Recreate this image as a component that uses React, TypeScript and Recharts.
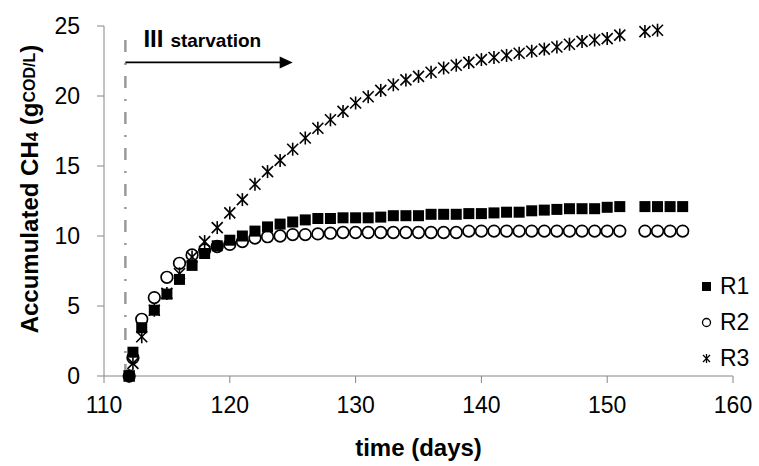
import React from "react";
import { ScatterChart, Scatter, XAxis, YAxis, ReferenceLine } from "recharts";

// sampling days (day 112 was sampled twice)
const days = [
  112, 112.3, 113, 114, 115, 116, 117, 118, 119, 120, 121, 122, 123, 124, 125,
  126, 127, 128, 129, 130, 131, 132, 133, 134, 135, 136, 137, 138, 139, 140,
  141, 142, 143, 144, 145, 146, 147, 148, 149, 150, 151, 153, 154, 155, 156,
];

const r1 = [
  0, 1.7, 3.45, 4.7, 5.85, 6.9, 7.9, 8.75, 9.3, 9.7, 10.0, 10.35, 10.65, 10.85, 11.0,
  11.15, 11.25, 11.25, 11.3, 11.3, 11.3, 11.35, 11.45, 11.45, 11.45, 11.55, 11.55, 11.55, 11.6, 11.6,
  11.65, 11.7, 11.7, 11.8, 11.85, 11.9, 11.95, 11.95, 11.95, 12.05, 12.1, 12.1, 12.1, 12.1, 12.1,
];

const r2 = [
  0, 1.3, 4.05, 5.6, 7.05, 8.05, 8.65, 9.0, 9.25, 9.4, 9.6, 9.85, 9.95, 10.0, 10.1,
  10.1, 10.15, 10.2, 10.25, 10.25, 10.25, 10.25, 10.25, 10.25, 10.25, 10.25, 10.25, 10.25, 10.35, 10.35,
  10.35, 10.35, 10.35, 10.35, 10.35, 10.35, 10.35, 10.35, 10.35, 10.35, 10.35, 10.35, 10.35, 10.35, 10.35,
];

const r3 = [
  0, 0.9, 2.8, 4.7, 5.9, 7.3, 8.5, 9.6, 10.6, 11.65, 12.6, 13.7, 14.6, 15.4, 16.2,
  17.0, 17.7, 18.3, 18.9, 19.5, 19.95, 20.4, 20.8, 21.15, 21.4, 21.7, 22.0, 22.2, 22.4, 22.6,
  22.75, 22.9, 23.05, 23.2, 23.35, 23.5, 23.7, 23.9, 24.0, 24.1, 24.35, 24.6, 24.7, null, null,
];

const xTicks = [110, 120, 130, 140, 150, 160];
const yTicks = [0, 5, 10, 15, 20, 25];

// start of phase III (starvation)
const phaseStart = 111.7;
const arrowEnd = 125;
const arrowLevel = 22.4;

const FONT = "'Liberation Sans', Arial, sans-serif";
const AXIS = "#868686";

const toPoints = (vals: (number | null)[]) =>
  days
    .map((d, i) => ({ day: d, value: vals[i] }))
    .filter((p) => p.value !== null);

const SquareMark = (p: any) => (
  <rect x={p.cx - 5.5} y={p.cy - 5.5} width={11} height={11} fill="#000" />
);

const CircleMark = (p: any) => (
  <circle cx={p.cx} cy={p.cy} r={5.8} fill="none" stroke="#000" strokeWidth={1.7} />
);

const StarMark = (p: any) => {
  const s = 5.5;
  return (
    <g stroke="#000" strokeWidth={1.6}>
      <line x1={p.cx - s} y1={p.cy - s} x2={p.cx + s} y2={p.cy + s} />
      <line x1={p.cx - s} y1={p.cy + s} x2={p.cx + s} y2={p.cy - s} />
      <line x1={p.cx} y1={p.cy - s - 1} x2={p.cx} y2={p.cy + s + 1} />
    </g>
  );
};

// arrow + "III starvation" annotation
const ArrowShape = (p: any) => {
  const { x1, y1, x2 } = p;
  return (
    <g>
      <line x1={x1} y1={y1} x2={x2 - 12} y2={y1} stroke="#000" strokeWidth={1.8} />
      <polygon points={`${x2},${y1} ${x2 - 13},${y1 - 6} ${x2 - 13},${y1 + 6}`} fill="#000" />
      <text x={x1 + 18} y={y1 - 15} fontFamily={FONT} fontWeight="bold" fill="#000">
        <tspan fontSize={24}>III</tspan>
        <tspan fontSize={19} dx={7}>starvation</tspan>
      </text>
    </g>
  );
};

const YTitle = (p: any) => {
  const vb = p.viewBox;
  const cx = vb.x + 29;
  const cy = vb.y + vb.height / 2 - 12;
  return (
    <text
      x={cx}
      y={cy}
      transform={`rotate(-90, ${cx}, ${cy})`}
      textAnchor="middle"
      dominantBaseline="central"
      fontFamily={FONT}
      fontWeight="bold"
      fontSize={24}
      fill="#000"
    >
      Accumulated CH<tspan fontSize={17} dy={3}>4</tspan>
      <tspan dy={-3}> (g</tspan>
      <tspan fontSize={16}>COD/L</tspan>
      <tspan>)</tspan>
    </text>
  );
};

const legendItems = [
  { name: "R1", Mark: () => <rect x={2} y={2} width={9} height={9} fill="#000" /> },
  { name: "R2", Mark: () => <circle cx={6.5} cy={6.5} r={4} fill="none" stroke="#000" strokeWidth={1.3} /> },
  {
    name: "R3",
    Mark: () => (
      <g stroke="#000" strokeWidth={1.3}>
        <line x1={3} y1={3} x2={10} y2={10} />
        <line x1={3} y1={10} x2={10} y2={3} />
        <line x1={6.5} y1={2} x2={6.5} y2={11} />
      </g>
    ),
  },
];

const LegendBox = () => (
  <div
    style={{
      position: "absolute",
      left: 700,
      top: 268,
      fontFamily: FONT,
      fontSize: 23,
      color: "#000",
    }}
  >
    {legendItems.map(({ name, Mark }) => (
      <div key={name} style={{ display: "flex", alignItems: "center", height: 36 }}>
        <svg width={13} height={13} style={{ marginRight: 7 }}>
          <Mark />
        </svg>
        {name}
      </div>
    ))}
  </div>
);

export default function App() {
  return (
    <div style={{ position: "absolute", left: 0, top: 0, width: 759, height: 466, background: "#fff" }}>
      <ScatterChart width={759} height={466} margin={{ top: 26, right: 26, left: 0, bottom: 0 }}>
        <XAxis
          type="number"
          dataKey="day"
          domain={[110, 160]}
          ticks={xTicks}
          stroke={AXIS}
          tickSize={7}
          tickMargin={14}
          tick={{ fill: "#000", fontSize: 23, fontFamily: FONT }}
          height={90}
          label={{
            value: "time (days)",
            position: "insideBottom",
            offset: 10,
            fill: "#000",
            fontSize: 24,
            fontWeight: "bold",
            fontFamily: FONT,
          }}
        />
        <YAxis
          type="number"
          dataKey="value"
          domain={[0, 25]}
          ticks={yTicks}
          stroke={AXIS}
          tickSize={7}
          tickMargin={17}
          width={104}
          tick={{ fill: "#000", fontSize: 23, fontFamily: FONT }}
          label={<YTitle />}
        />
        <ReferenceLine
          segment={[
            { x: phaseStart, y: 0 },
            { x: phaseStart, y: 24.7 },
          ]}
          stroke="#999999"
          strokeWidth={2.5}
          strokeDasharray="12 11 2 11"
        />
        <ReferenceLine
          segment={[
            { x: phaseStart, y: arrowLevel },
            { x: arrowEnd, y: arrowLevel },
          ]}
          shape={<ArrowShape />}
        />
        <Scatter name="R1" data={toPoints(r1)} shape={<SquareMark />} isAnimationActive={false} />
        <Scatter name="R2" data={toPoints(r2)} shape={<CircleMark />} isAnimationActive={false} />
        <Scatter name="R3" data={toPoints(r3)} shape={<StarMark />} isAnimationActive={false} />
      </ScatterChart>
      <LegendBox />
    </div>
  );
}
